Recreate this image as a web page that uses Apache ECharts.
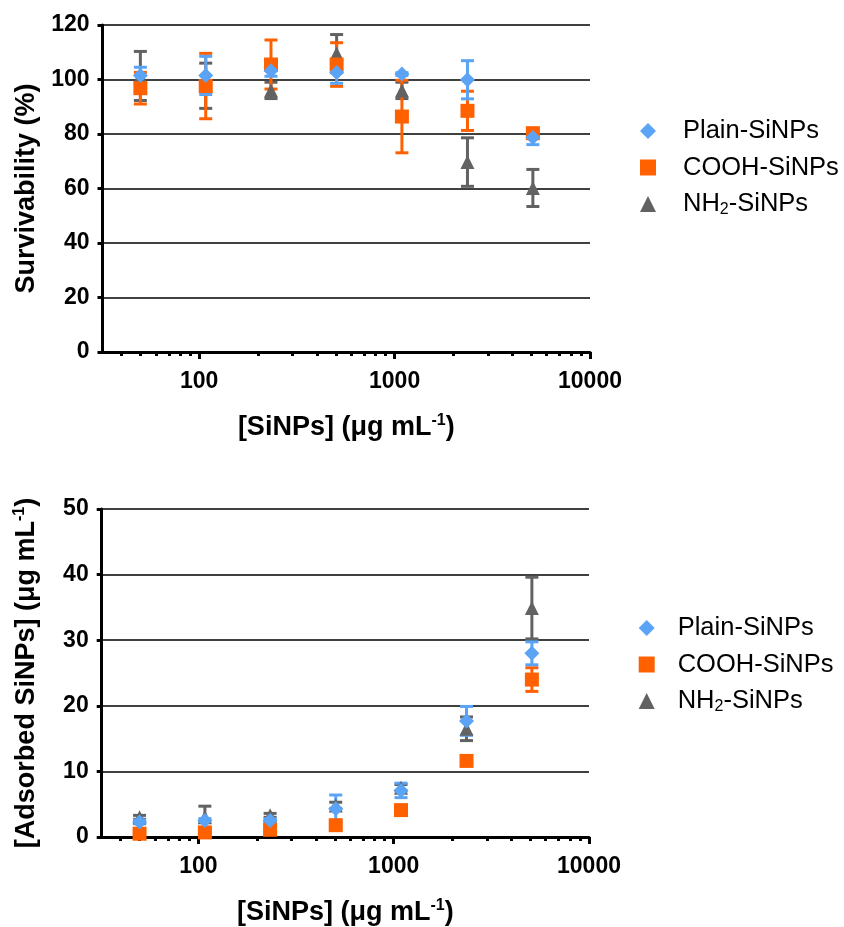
<!DOCTYPE html>
<html><head><meta charset="utf-8">
<script src="https://cdn.jsdelivr.net/npm/echarts@6/dist/echarts.min.js"></script>
<style>html,body{margin:0;padding:0;background:#fff}#c{width:844px;height:927px}</style>
</head><body><div id="c"></div>
<script>
// ---- data ----
const concentrations = [50, 108, 233, 505, 1090, 2360, 5100];
const survPlain    = [101.5, 101.5, 103.2, 102.6, 102.0, 99.9, 78.7];
const survPlainErr = [3.0, 7.0, 2.0, 4.0, 0.5, 7.0, 2.6];
const survCOOH     = [96.8, 97.6, 105.5, 105.5, 86.4, 88.5, 80.3];
const survCOOHErr  = [5.8, 12.0, 9.0, 8.0, 13.3, 7.2, 1.5];
const survNH2      = [101.3, 97.7, 96.0, 109.5, 96.0, 69.7, 60.2];
const survNH2Err   = [9.0, 8.3, 3.0, 7.0, 3.0, 8.9, 6.8];
const adsPlain     = [2.3, 2.5, 2.5, 4.3, 7.1, 17.7, 28.0];
const adsPlainErr  = [0.3, 0.3, 0.3, 2.1, 1.1, 2.2, 1.75];
const adsCOOH      = [0.5, 0.7, 1.1, 1.8, 4.1, 11.6, 24.0];
const adsCOOHErr   = [0.2, 0.2, 0.3, 0.5, 0.3, 0.4, 1.8];
const adsNH2       = [3.0, 3.0, 3.3, 4.8, 7.5, 16.5, 34.9];
const adsNH2Err    = [0.3, 1.7, 0.3, 0.5, 0.5, 1.8, 4.7];
const seriesNames  = ['Plain-SiNPs', 'COOH-SiNPs', 'NH2-SiNPs'];
const majorTicks   = [100, 1000, 10000];
const minorTicks   = [40, 50, 60, 70, 80, 90, 200, 300, 400, 500, 600, 700, 800, 900,
                      2000, 3000, 4000, 5000, 6000, 7000, 8000, 9000];

// ---- style ----
const FONT = "'Liberation Sans', Arial, Helvetica, sans-serif";
const C_PLAIN = '#5ba3f4', C_COOH = '#ff6000', C_NH2 = '#626262';

const chart = echarts.init(document.getElementById('c'), null, {renderer: 'canvas'});

function titleRich() {
  return {
    b: {fontSize: 27, fontWeight: 'bold', fontFamily: FONT, color: '#000', lineHeight: 30},
    sup: {fontSize: 16, fontWeight: 'bold', fontFamily: FONT, color: '#000', lineHeight: 16, verticalAlign: 'top'}
  };
}

function xAxes(gridIndex) {
  return [{
    type: 'log', logBase: 10, gridIndex, min: 32, max: 10000, position: 'bottom',
    axisLine: {show: true, onZero: false, lineStyle: {color: '#000', width: 3}},
    axisTick: {show: true, customValues: majorTicks, length: 7, lineStyle: {color: '#000', width: 3}},
    axisLabel: {show: true, customValues: majorTicks, formatter: v => String(Math.round(v)),
                fontSize: 23, fontWeight: 'bold', fontFamily: FONT, color: '#000', margin: 18},
    splitLine: {show: false}, minorTick: {show: false},
    name: '{b|[SiNPs] (μg mL}{sup|-1}{b|)}', nameLocation: 'middle', nameGap: 61,
    nameTextStyle: {rich: titleRich()}
  }, {
    type: 'log', logBase: 10, gridIndex, min: 32, max: 10000, position: 'bottom',
    axisLine: {show: false, onZero: false},
    axisTick: {show: true, customValues: minorTicks, length: 4, lineStyle: {color: '#000', width: 3}},
    axisLabel: {show: false}, splitLine: {show: false}
  }];
}

function yAxis(gridIndex, max, interval, name) {
  return {
    type: 'value', gridIndex, min: 0, max, interval,
    axisLine: {show: true, lineStyle: {color: '#000', width: 3}},
    axisTick: {show: true, length: 5, lineStyle: {color: '#000', width: 3}},
    axisLabel: {fontSize: 23, fontWeight: 'bold', fontFamily: FONT, color: '#000', margin: 13},
    splitLine: {show: true, lineStyle: {color: '#000', width: 1.5}},
    name, nameLocation: 'middle', nameGap: 60, nameRotate: 90,
    nameTextStyle: {rich: titleRich()}
  };
}

function errSeries(xi, yi, vals, errs, color) {
  return {
    type: 'custom', xAxisIndex: xi, yAxisIndex: yi, silent: true,
    data: concentrations.map((c, i) => [c, vals[i] - errs[i], vals[i] + errs[i]]),
    encode: {x: 0, y: [1, 2]},
    renderItem(params, api) {
      const lo = api.coord([api.value(0), api.value(1)]);
      const hi = api.coord([api.value(0), api.value(2)]);
      const hw = 6.5;
      const st = {stroke: color, lineWidth: 3};
      return {type: 'group', children: [
        {type: 'line', shape: {x1: lo[0], y1: lo[1], x2: hi[0], y2: hi[1]}, style: st},
        {type: 'line', shape: {x1: lo[0] - hw, y1: lo[1], x2: lo[0] + hw, y2: lo[1]}, style: st},
        {type: 'line', shape: {x1: hi[0] - hw, y1: hi[1], x2: hi[0] + hw, y2: hi[1]}, style: st}
      ]};
    }
  };
}

function pointSeries(name, xi, yi, vals, color, symbol, size) {
  return {
    type: 'scatter', name, xAxisIndex: xi, yAxisIndex: yi, symbol, symbolSize: size,
    itemStyle: {color, opacity: 1}, clip: false,
    data: concentrations.map((c, i) => [c, vals[i]])
  };
}

function legend(left, top, padLeft) {
  return {
    orient: 'vertical', left, top, itemWidth: 16, itemHeight: 16, itemGap: 10.5,
    data: seriesNames, selectedMode: false,
    formatter: n => n === 'NH2-SiNPs' ? '{n|NH}{s|2}{n|-SiNPs}' : '{n|' + n + '}',
    textStyle: {
      fontSize: 25.5, fontFamily: FONT, color: '#000', padding: [0, 0, 0, padLeft],
      rich: {
        n: {fontSize: 25.5, fontFamily: FONT, color: '#000', lineHeight: 28},
        s: {fontSize: 16, fontFamily: FONT, color: '#000', lineHeight: 16, verticalAlign: 'bottom'}
      }
    }
  };
}

const option = {
  backgroundColor: '#fff',
  animation: false,
  grid: [
    {left: 102.5, top: 25, width: 487.5, height: 327, outerBoundsMode: 'none'},
    {left: 101.7, top: 509, width: 487.3, height: 328, outerBoundsMode: 'none'}
  ],
  xAxis: [...xAxes(0), ...xAxes(1)],
  yAxis: [
    yAxis(0, 120, 20, '{b|Survivability (%)}'),
    yAxis(1, 50, 10, '{b|[Adsorbed SiNPs] (μg mL}{sup|-1}{b|)}')
  ],
  legend: [legend(635, 113, 22), legend(633.7, 610, 18)],
  series: [
    errSeries(0, 0, survNH2, survNH2Err, C_NH2),
    pointSeries('NH2-SiNPs', 0, 0, survNH2, C_NH2, 'triangle', 14),
    errSeries(0, 0, survCOOH, survCOOHErr, C_COOH),
    pointSeries('COOH-SiNPs', 0, 0, survCOOH, C_COOH, 'rect', 14),
    errSeries(0, 0, survPlain, survPlainErr, C_PLAIN),
    pointSeries('Plain-SiNPs', 0, 0, survPlain, C_PLAIN, 'diamond', 15),

    errSeries(2, 1, adsNH2, adsNH2Err, C_NH2),
    pointSeries('NH2-SiNPs', 2, 1, adsNH2, C_NH2, 'triangle', 14),
    errSeries(2, 1, adsCOOH, adsCOOHErr, C_COOH),
    pointSeries('COOH-SiNPs', 2, 1, adsCOOH, C_COOH, 'rect', 14),
    errSeries(2, 1, adsPlain, adsPlainErr, C_PLAIN),
    pointSeries('Plain-SiNPs', 2, 1, adsPlain, C_PLAIN, 'diamond', 15)
  ]
};
chart.setOption(option);
</script></body></html>
